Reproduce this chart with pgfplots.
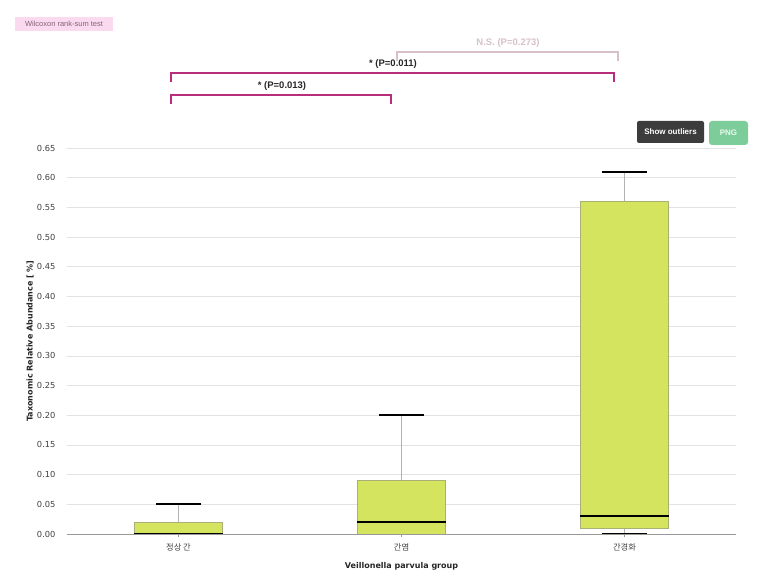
\documentclass[border=0pt]{standalone}
\usepackage{pgfplots}
\pgfplotsset{compat=1.18}
\usepgfplotslibrary{statistics}
\usepackage{fontspec}
\setmainfont{DejaVu Sans}
\newfontfamily\kr{Noto Sans CJK KR}
\newfontfamily\lib{Liberation Sans}
\definecolor{boxfill}{RGB}{212,228,94}
\definecolor{boxedge}{RGB}{170,175,120}
\definecolor{brk}{RGB}{185,45,125}
\definecolor{nsc}{RGB}{215,192,202}
\definecolor{wilbg}{RGB}{251,218,240}
\definecolor{wiltx}{RGB}{130,100,120}
\definecolor{btndark}{RGB}{60,60,60}
\definecolor{btngreen}{RGB}{125,205,155}
\begin{document}
\begin{tikzpicture}
\path[use as bounding box] (0pt,0pt) rectangle (765pt,577pt);
\begin{axis}[
  at={(67pt,43pt)}, anchor=south west,
  scale only axis, width=669pt, height=386pt,
  xmin=-0.5, xmax=2.5, ymin=0, ymax=0.65,
  xtick={0,1,2},
  xticklabels={{\kr 정상 간},{\kr 간염},{\kr 간경화}},
  ytick={0,0.05,...,0.651},
  /pgf/number format/assume math mode=true,
  /pgf/number format/fixed,
  /pgf/number format/fixed zerofill,
  /pgf/number format/precision=2,
  ticklabel style={font=\fontsize{8.3}{9}\selectfont, text=black!75},
  xticklabel style={yshift=-3pt},
  yticklabel style={xshift=-5pt},
  ymajorgrids, major grid style={gray!22, line width=0.6pt},
  axis x line*=bottom, axis y line*=left,
  y axis line style={draw=none},
  x axis line style={gray!80, line width=0.8pt},
  ytick style={draw=none},
  xtick style={gray!80},
  tick align=outside, major tick length=3pt,
  xlabel={Veillonella parvula group},
  ylabel={Taxonomic Relative Abundance [ \%]},
  label style={font=\bfseries\fontsize{8}{9}\selectfont, text=black!85},
  xlabel style={at={(axis description cs:0.5,-0.083)}, anchor=center},
  ylabel style={at={(axis description cs:-0.055,0.5)}, anchor=center},
  boxplot/draw direction=y,
  boxplot/box extend=0.395,
  boxplot/whisker extend=0.2,
  boxplot/every median/.style={black, line width=2pt},
  boxplot/draw/lower whisker/.code={
    \draw[gray!60, line width=0.6pt] (boxplot cs:\pgfplotsboxplotvalue{lower whisker}) -- (boxplot cs:\pgfplotsboxplotvalue{lower quartile});
    \draw[black, line width=2pt] (boxplot whisker cs:\pgfplotsboxplotvalue{lower whisker},0) -- (boxplot whisker cs:\pgfplotsboxplotvalue{lower whisker},1);
  },
  boxplot/draw/upper whisker/.code={
    \draw[gray!60, line width=0.6pt] (boxplot cs:\pgfplotsboxplotvalue{upper whisker}) -- (boxplot cs:\pgfplotsboxplotvalue{upper quartile});
    \draw[black, line width=2pt] (boxplot whisker cs:\pgfplotsboxplotvalue{upper whisker},0) -- (boxplot whisker cs:\pgfplotsboxplotvalue{upper whisker},1);
  },
]
\addplot[boxplot prepared={draw position=0, lower whisker=0, lower quartile=0, median=0, upper quartile=0.02, upper whisker=0.05}, fill=boxfill, draw=boxedge, line width=0.6pt] coordinates {};
\addplot[boxplot prepared={draw position=1, lower whisker=0, lower quartile=0, median=0.02, upper quartile=0.09, upper whisker=0.20}, fill=boxfill, draw=boxedge, line width=0.6pt] coordinates {};
\addplot[boxplot prepared={draw position=2, lower whisker=0, lower quartile=0.01, median=0.03, upper quartile=0.56, upper whisker=0.61}, fill=boxfill, draw=boxedge, line width=0.6pt] coordinates {};
\end{axis}
\begin{scope}[x=1pt,y=1pt]
% Wilcoxon tag
\node[fill=wilbg, minimum width=98pt, minimum height=14pt, inner sep=0pt, text=wiltx, font=\lib\fontsize{7.5}{8}\selectfont] at (64,553) {Wilcoxon rank-sum test};
% brackets
\draw[nsc, line width=2pt] (397,516) -- (397,525) -- (618,525) -- (618,516);
\node[text=nsc, font=\lib\bfseries\fontsize{9.5}{10}\selectfont] at (508,534) {N.S. (P=0.273)};
\draw[brk, line width=2pt] (171,495) -- (171,504) -- (614,504) -- (614,495);
\node[text=black!85, font=\lib\bfseries\fontsize{9.5}{10}\selectfont] at (393,513) {* (P=0.011)};
\draw[brk, line width=2pt] (171,473) -- (171,482) -- (391,482) -- (391,473);
\node[text=black!85, font=\lib\bfseries\fontsize{9.5}{10}\selectfont] at (282,491) {* (P=0.013)};
% buttons
\node[fill=btndark, rounded corners=2pt, minimum width=67pt, minimum height=22pt, inner sep=0pt, text=white, font=\lib\bfseries\fontsize{8}{9}\selectfont] at (670.5,445) {Show outliers};
\node[fill=btngreen, rounded corners=3pt, minimum width=39pt, minimum height=24pt, inner sep=0pt, text=white!85!btngreen, font=\lib\bfseries\fontsize{8}{9}\selectfont] at (728.5,444) {PNG};
\end{scope}
\end{tikzpicture}
\end{document}
